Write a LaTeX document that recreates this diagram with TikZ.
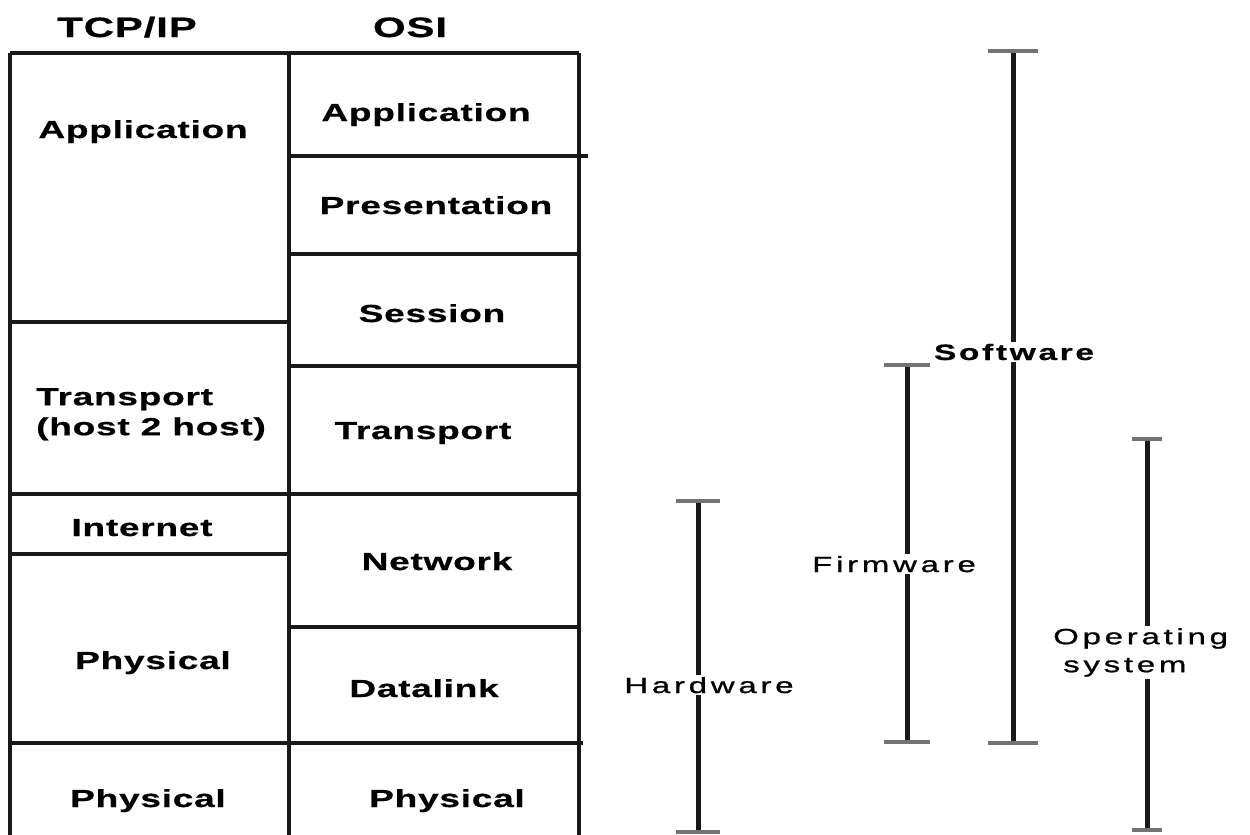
\documentclass[tikz,border=0pt]{standalone}
\usepackage{fontspec}
\setmainfont{Liberation Sans}
\newfontfamily\layerfont{Liberation Sans}[FakeStretch=1.5, LetterSpace=3, FakeBold=0.6]
\newfontfamily\sidefont{Liberation Sans}[FakeStretch=1.5, LetterSpace=17, FakeBold=1]
\newfontfamily\swfont{Liberation Sans Bold}[FakeStretch=1.5, LetterSpace=12, FakeBold=0.6]
\usetikzlibrary{positioning}

\begin{document}
\begin{tikzpicture}[x=1pt, y=-1pt,
    layer/.style={font=\layerfont\bfseries\fontsize{24.7}{30}\selectfont, inner sep=0pt, anchor=base},
    head/.style={font=\layerfont\bfseries\fontsize{28}{32}\selectfont, inner sep=0pt, anchor=base},
    side/.style={font=\sidefont\fontsize{22}{28}\selectfont, fill=white, inner sep=2pt, anchor=base},
    grid/.style={line width=4pt, black!90},
    bar/.style={line width=5pt, black!90},
    tick/.style={line width=4pt, black!55}]
    \useasboundingbox[fill=white] (0,0) rectangle (1250,835);

    % 1. Column titles
    \node[head] (tcpip) at (127,37) {TCP/IP};
    \node[head] (osi) at (410,37) {OSI};

    % 2. Table frame
    \foreach \x in {10,289,579} {
        \draw[grid] (\x,53) -- (\x,835);
    }
    \draw[grid] (10,53) -- (579,53);
    \draw[grid] (289,156) -- (588,156);
    \draw[grid] (289,254) -- (579,254);
    \draw[grid] (10,322) -- (289,322);
    \draw[grid] (289,366) -- (579,366);
    \draw[grid] (10,494) -- (579,494);
    \draw[grid] (10,554) -- (289,554);
    \draw[grid] (289,627) -- (579,627);
    \draw[grid] (10,743) -- (583,743);

    % 3. TCP/IP layers
    \node[layer] (tcp-app) at (143,138) {Application};
    \node[layer, anchor=north west, align=left] (tcp-trans) at (36,388) {Transport\\(host 2 host)};
    \node[layer] (tcp-inet) at (142,536) {Internet};
    \node[layer] (tcp-phys) at (153,669) {Physical};
    \node[layer] (tcp-phys2) at (148,807) {Physical};

    % 4. OSI layers
    \node[layer] (osi-app) at (426,121) {Application};
    \node[layer] (osi-pres) at (436,214) {Presentation};
    \node[layer] (osi-sess) at (432,322) {Session};
    \node[layer] (osi-trans) at (423,439) {Transport};
    \node[layer] (osi-net) at (437,570) {Network};
    \node[layer] (osi-dl) at (424,697) {Datalink};
    \node[layer] (osi-phys) at (447,807) {Physical};

    % 5. Ranges on the right
    \foreach \n/\x/\ya/\yb/\w in {hw/698/501/832/22, fw/907/365/742/23,
                                  sw/1013/51/743/25, os/1147/439/830/15} {
        \coordinate (\n-top) at (\x,\ya);
        \coordinate (\n-bot) at (\x,\yb);
        \draw[bar] (\n-top) -- (\n-bot);
        \draw[tick] ([xshift=-\w pt]\n-top) -- ([xshift=\w pt]\n-top);
        \draw[tick] ([xshift=-\w pt]\n-bot) -- ([xshift=\w pt]\n-bot);
    }
    \node[side] (hw) at (709,693) {Hardware};
    \node[side] (fw) at (894,572) {Firmware};
    \node[side, font=\swfont\fontsize{22.3}{28}\selectfont] (sw) at (1014,360) {Software};
    \node[side, anchor=north west, align=left] (os) at (1051,626) {Operating\\\hspace*{10pt}system};
\end{tikzpicture}
\end{document}
